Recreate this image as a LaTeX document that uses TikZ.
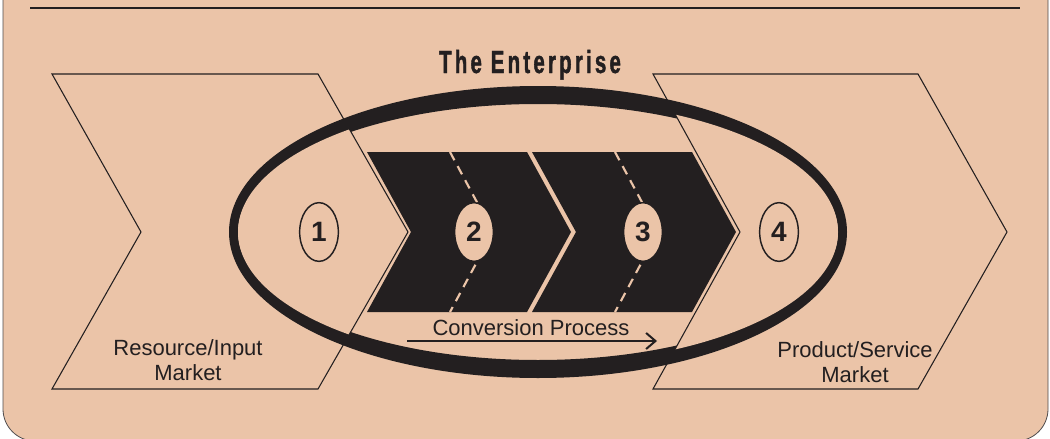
\documentclass[tikz,border=0pt]{standalone}
\usepackage{fontspec}
\setmainfont{Liberation Sans}
\newfontfamily\titlefont[FakeStretch=0.64,LetterSpace=10,FakeBold=1.2]{Liberation Sans}
\usetikzlibrary{shapes.geometric, arrows.meta, positioning}
\definecolor{peach}{RGB}{235,196,168}
\definecolor{ink}{RGB}{35,31,32}

\begin{document}
\begin{tikzpicture}[
          x=0.75pt, y=-0.75pt,
          market/.style={draw=ink, line width=0.8pt},
          stage/.style={fill=ink},
          flowline/.style={draw=peach, line width=1.6pt, dash pattern=on 7pt off 5pt},
          num/.style={ellipse, draw=ink, line width=1.1pt, fill=peach, minimum width=29pt, minimum height=44pt, inner sep=0pt, text=ink, font=\bfseries\fontsize{21}{21}\selectfont},
          mktext/.style={align=center, text=ink, font=\fontsize{16.5}{18.75}\selectfont},
          >={Straight Barb[length=7pt, width=12pt]},
          thick
        ]
          \useasboundingbox (0,0) rectangle (1050,439);
          % 背景
          \filldraw[fill=peach, draw=ink!80, line width=0.6pt, rounded corners=24pt] (3,-40) rectangle (1048,441);
          \draw[ink, line width=1pt] (30,8) -- (1020,8);

          % 企業の楕円
          \fill[ink, even odd rule] (538,232) ellipse [x radius=309, y radius=146]
                                    (538,232) ellipse [x radius=300, y radius=128];
          \begin{scope}
            \clip (52,74) -- (318,74) -- (408,232) -- (318,389) -- (52,389) -- (141,232) -- cycle;
            \fill[peach] (538,232) ellipse [x radius=300, y radius=132];
          \end{scope}
          \begin{scope}
            \clip (653,74) -- (918,74) -- (1007,232) -- (918,389) -- (653,389) -- (740,232) -- cycle;
            \fill[peach] (538,232) ellipse [x radius=300, y radius=132];
          \end{scope}

          % 市場
          \draw[market] (52,74) -- (318,74) -- (408,232) -- (318,389) -- (52,389) -- (141,232) -- cycle;
          \draw[market] (653,74) -- (918,74) -- (1007,232) -- (918,389) -- (653,389) -- (740,232) -- cycle;

          % 変換プロセス
          \fill[stage] (367,152) -- (527,152) -- (571,232) -- (527,312) -- (367,312) -- (411,232) -- cycle;
          \fill[stage] (532,152) -- (692,152) -- (736,232) -- (692,312) -- (532,312) -- (576,232) -- cycle;
          \draw[flowline] (450,152) -- (493,232) -- (450,312);
          \draw[flowline] (615,152) -- (658,232) -- (615,312);

          % ノードの配置
          \node[num] (n1) at (319,232) {1};
          \node[num] (n2) at (474,232) {2};
          \node[num] (n3) at (643,232) {3};
          \node[num] (n4) at (779,232) {4};

          \node[text=ink, anchor=base, font=\titlefont\bfseries\fontsize{24}{24}\selectfont] (title) at (530,73) {The Enterprise};
          \node[mktext] (input) at (188,360) {Resource/Input\\Market};
          \node[mktext] (output) at (855,362) {Product/Service\\Market};
          \node[mktext, anchor=base] (convert) at (531,335) {Conversion Process};

          \coordinate (cpstart) at (407,341);
          \coordinate (cpend) at (657,341);
          \draw[->, ink, line width=1.5pt] (cpstart) -- (cpend);
        \end{tikzpicture}
\end{document}
